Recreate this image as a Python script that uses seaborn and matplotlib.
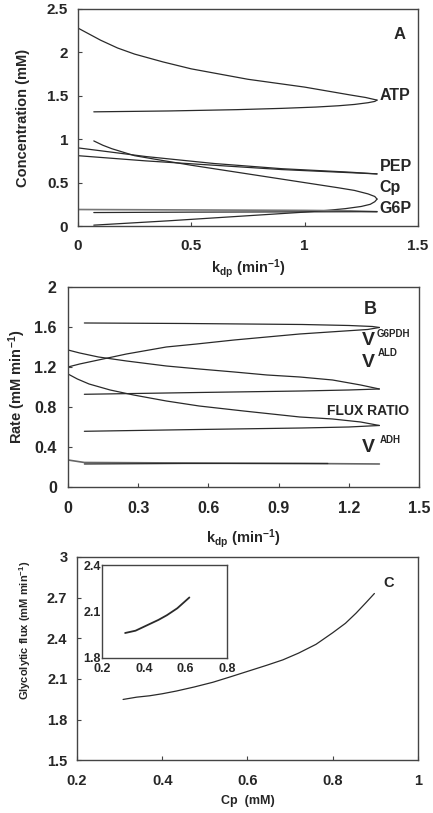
import matplotlib
matplotlib.use("Agg")
import matplotlib.pyplot as plt
import seaborn as sns

# --- DATA ---
# Panel A: steady-state concentrations vs k_dp (two branches per species)
atp_up_k = [0.0, 0.05, 0.1, 0.175, 0.25, 0.375, 0.5, 0.625, 0.75, 0.875, 1.0, 1.1, 1.2, 1.27, 1.32]
atp_up_c = [2.28, 2.21, 2.14, 2.05, 1.98, 1.89, 1.81, 1.75, 1.69, 1.645, 1.60, 1.555, 1.51, 1.48, 1.45]
atp_lo_k = [0.07, 0.4, 0.7, 0.9, 1.05, 1.15, 1.22, 1.28, 1.31, 1.32]
atp_lo_c = [1.315, 1.325, 1.34, 1.355, 1.37, 1.385, 1.40, 1.42, 1.435, 1.45]

cp_up_k = [0.07, 0.11, 0.15, 0.2, 0.25, 0.35, 0.5, 0.65, 0.8, 0.95, 1.05, 1.15, 1.22, 1.28, 1.31, 1.32]
cp_up_c = [0.98, 0.93, 0.89, 0.85, 0.81, 0.765, 0.70, 0.64, 0.58, 0.52, 0.48, 0.44, 0.41, 0.37, 0.34, 0.31]
cp_lo_k = [0.07, 0.4, 0.7, 1.0, 1.1, 1.18, 1.25, 1.29, 1.31, 1.32]
cp_lo_c = [0.01, 0.06, 0.11, 0.16, 0.18, 0.20, 0.225, 0.25, 0.28, 0.31]

pep_a_k = [0.0, 0.15, 0.3, 0.45, 0.6, 0.9, 1.2, 1.32]
pep_a_c = [0.90, 0.85, 0.80, 0.76, 0.72, 0.66, 0.62, 0.60]
pep_b_k = [0.0, 0.3, 0.6, 0.9, 1.32]
pep_b_c = [0.81, 0.75, 0.70, 0.65, 0.60]

g6p_a_k = [0.0, 0.5, 1.0, 1.2, 1.32]
g6p_a_c = [0.19, 0.185, 0.18, 0.175, 0.165]
g6p_b_k = [0.07, 0.5, 1.0, 1.32]
g6p_b_c = [0.155, 0.16, 0.163, 0.165]

# Panel B: rates vs k_dp
g6pdh_up_k = [0.07, 0.5, 1.0, 1.2, 1.3, 1.33]
g6pdh_up_r = [1.64, 1.635, 1.625, 1.615, 1.605, 1.595]
g6pdh_lo_k = [0.0, 0.05, 0.13, 0.25, 0.42, 0.55, 0.71, 0.85, 0.99, 1.15, 1.28, 1.33]
g6pdh_lo_r = [1.20, 1.23, 1.27, 1.33, 1.40, 1.43, 1.47, 1.50, 1.53, 1.555, 1.575, 1.595]

ald_up_k = [0.0, 0.05, 0.13, 0.25, 0.42, 0.56, 0.71, 0.85, 0.99, 1.13, 1.25, 1.33]
ald_up_r = [1.37, 1.34, 1.30, 1.26, 1.21, 1.18, 1.15, 1.12, 1.10, 1.07, 1.02, 0.98]
ald_lo_k = [0.07, 0.56, 1.0, 1.2, 1.33]
ald_lo_r = [0.927, 0.945, 0.96, 0.97, 0.98]

ratio_up_k = [0.0, 0.04, 0.09, 0.18, 0.28, 0.42, 0.56, 0.75, 0.99, 1.13, 1.25, 1.33]
ratio_up_r = [1.13, 1.08, 1.03, 0.97, 0.92, 0.86, 0.81, 0.76, 0.70, 0.68, 0.65, 0.615]
ratio_lo_k = [0.07, 0.56, 1.0, 1.2, 1.33]
ratio_lo_r = [0.557, 0.575, 0.59, 0.60, 0.615]

adh_a_k = [0.0, 0.07, 0.5, 1.0, 1.33]
adh_a_r = [0.27, 0.245, 0.24, 0.235, 0.23]
adh_b_k = [0.07, 0.5, 1.11]
adh_b_r = [0.23, 0.235, 0.235]

# Panel C: glycolytic flux vs Cp
flux_cp = [0.308, 0.34, 0.37, 0.40, 0.433, 0.475, 0.519, 0.56, 0.605, 0.645, 0.683,
           0.72, 0.761, 0.80, 0.83, 0.855, 0.879, 0.898]
flux_v = [1.948, 1.965, 1.975, 1.99, 2.01, 2.04, 2.075, 2.115, 2.16, 2.20, 2.24,
          2.29, 2.355, 2.44, 2.51, 2.585, 2.665, 2.73]

inset_cp = [0.31, 0.36, 0.415, 0.47, 0.51, 0.56, 0.618]
inset_v = [1.96, 1.975, 2.01, 2.045, 2.075, 2.12, 2.19]

sns.set_theme(style="ticks")
plt.rcParams["font.family"] = ["Liberation Sans", "DejaVu Sans"]
plt.rcParams["font.weight"] = "bold"
plt.rcParams["mathtext.fontset"] = "custom"
plt.rcParams["mathtext.rm"] = "Liberation Sans:bold"
plt.rcParams["mathtext.it"] = "Liberation Sans:bold"
plt.rcParams["mathtext.bf"] = "Liberation Sans:bold"
plt.rcParams["mathtext.default"] = "rm"

LINE = "#2a2a2a"
SPINE = "#444444"


def line(ax, x, y, color=LINE, lw=0.9):
    sns.lineplot(x=x, y=y, ax=ax, sort=False, estimator=None, color=color, lw=lw)


def style_axes(ax, fs):
    for s in ax.spines.values():
        s.set_visible(True)
        s.set_color(SPINE)
        s.set_linewidth(1.0)
    ax.tick_params(direction="in", length=3, width=0.8, color=SPINE, labelsize=fs)
    for lab in ax.get_xticklabels() + ax.get_yticklabels():
        lab.set_fontweight("bold")


fig = plt.figure(figsize=(4.33, 8.13), dpi=100)

# ---------------- Panel A ----------------
axA = fig.add_axes([0.180, 0.722, 0.785, 0.267])
line(axA, atp_up_k, atp_up_c)
line(axA, atp_lo_k, atp_lo_c)
line(axA, cp_up_k, cp_up_c)
line(axA, cp_lo_k, cp_lo_c)
line(axA, pep_a_k, pep_a_c)
line(axA, pep_b_k, pep_b_c)
line(axA, g6p_a_k, g6p_a_c, color="#777777", lw=1.2)
line(axA, g6p_b_k, g6p_b_c)
axA.set_xlim(0, 1.5)
axA.set_ylim(0, 2.5)
axA.set_xticks([0, 0.5, 1, 1.5])
axA.set_xticklabels(["0", "0.5", "1", "1.5"])
axA.set_yticks([0, 0.5, 1, 1.5, 2, 2.5])
axA.set_yticklabels(["0", "0.5", "1", "1.5", "2", "2.5"])
style_axes(axA, 11)
axA.tick_params(axis="x", pad=9)
axA.tick_params(axis="y", pad=7)
axA.set_xlabel(r"k$_{\mathregular{dp}}$ (min$^{\mathregular{-1}}$)", fontsize=10.5, fontweight="bold")
axA.set_ylabel("Concentration (mM)", fontsize=10.5, fontweight="bold")
axA.xaxis.set_label_coords(0.5, -0.143)
axA.yaxis.set_label_coords(-0.141, 0.5)
for txt, yv in [("ATP", 1.50), ("PEP", 0.69), ("Cp", 0.44), ("G6P", 0.196)]:
    axA.text(1.332, yv, txt, fontsize=11.5, fontweight="bold", va="center", ha="left")
axA.text(1.42, 2.21, "A", fontsize=12, fontweight="bold", va="center", ha="center")

# ---------------- Panel B ----------------
axB = fig.add_axes([0.157, 0.401, 0.811, 0.246])
line(axB, g6pdh_up_k, g6pdh_up_r)
line(axB, g6pdh_lo_k, g6pdh_lo_r)
line(axB, ald_up_k, ald_up_r)
line(axB, ald_lo_k, ald_lo_r)
line(axB, ratio_up_k, ratio_up_r)
line(axB, ratio_lo_k, ratio_lo_r)
line(axB, adh_a_k, adh_a_r, color="#666666", lw=1.2)
line(axB, adh_b_k, adh_b_r)
axB.set_xlim(0, 1.5)
axB.set_ylim(0, 2)
axB.set_xticks([0, 0.3, 0.6, 0.9, 1.2, 1.5])
axB.set_xticklabels(["0", "0.3", "0.6", "0.9", "1.2", "1.5"])
axB.set_yticks([0, 0.4, 0.8, 1.2, 1.6, 2])
axB.set_yticklabels(["0", "0.4", "0.8", "1.2", "1.6", "2"])
style_axes(axB, 11.5)
axB.tick_params(axis="x", pad=10)
axB.tick_params(axis="y", pad=8)
axB.set_xlabel(r"k$_{\mathregular{dp}}$ (min$^{\mathregular{-1}}$)", fontsize=10.5, fontweight="bold")
axB.set_ylabel(r"Rate (mM min$^{\mathregular{-1}}$)", fontsize=10.5, fontweight="bold")
axB.xaxis.set_label_coords(0.5, -0.20)
axB.yaxis.set_label_coords(-0.115, 0.5)
for vy, sup, sy, sx in [(1.42, "G6PDH", 1.50, 1.32), (1.20, "ALD", 1.31, 1.325), (0.35, "ADH", 0.44, 1.333)]:
    axB.text(1.256, vy, "V", fontsize=14, fontweight="bold", va="baseline", ha="left")
    axB.text(sx, sy, sup, fontsize=7, fontweight="bold", va="baseline", ha="left")
axB.text(1.107, 0.76, "FLUX RATIO", fontsize=10, fontweight="bold", va="center", ha="left")
axB.text(1.29, 1.77, "B", fontsize=13, fontweight="bold", va="center", ha="center")

# ---------------- Panel C ----------------
axC = fig.add_axes([0.178, 0.065, 0.787, 0.250])
line(axC, flux_cp, flux_v)
axC.set_xlim(0.2, 1.0)
axC.set_ylim(1.5, 3.0)
axC.set_xticks([0.2, 0.4, 0.6, 0.8, 1.0])
axC.set_xticklabels(["0.2", "0.4", "0.6", "0.8", "1"])
axC.set_yticks([1.5, 1.8, 2.1, 2.4, 2.7, 3.0])
axC.set_yticklabels(["1.5", "1.8", "2.1", "2.4", "2.7", "3"])
style_axes(axC, 10.5)
axC.tick_params(axis="x", pad=10)
axC.tick_params(axis="y", pad=7)
axC.set_xlabel("Cp  (mM)", fontsize=9, fontweight="bold")
axC.set_ylabel(r"Glycolytic flux (mM min$^{\mathregular{-1}}$)", fontsize=8, fontweight="bold")
axC.xaxis.set_label_coords(0.5, -0.172)
axC.yaxis.set_label_coords(-0.129, 0.64)
axC.text(0.932, 2.81, "C", fontsize=10.5, fontweight="bold", va="center", ha="center")

# inset
axI = fig.add_axes([0.236, 0.191, 0.289, 0.114])
line(axI, inset_cp, inset_v, lw=1.3)
axI.set_xlim(0.2, 0.8)
axI.set_ylim(1.8, 2.4)
axI.set_xticks([0.2, 0.4, 0.6, 0.8])
axI.set_xticklabels(["0.2", "0.4", "0.6", "0.8"])
axI.set_yticks([1.8, 2.1, 2.4])
axI.set_yticklabels(["1.8", "2.1", "2.4"])
style_axes(axI, 9)
axI.tick_params(axis="x", length=0, pad=4)
axI.tick_params(axis="y", length=0, pad=1)

fig.savefig("out.png", dpi=100)
